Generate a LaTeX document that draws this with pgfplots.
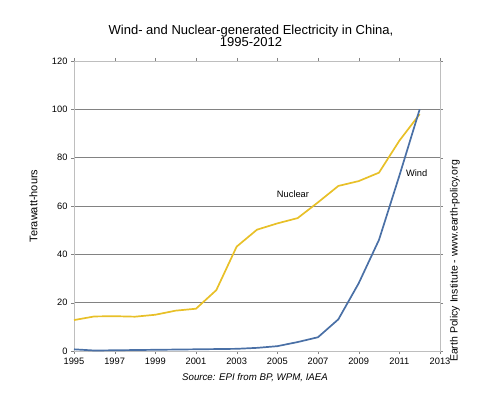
\documentclass[border=0pt]{standalone}
\usepackage{pgfplots}
\pgfplotsset{compat=1.18}
\usepackage{fontspec}
\setmainfont{Liberation Sans}
\definecolor{nuc}{RGB}{232,192,40}
\definecolor{wind}{RGB}{74,112,166}
\definecolor{gridc}{RGB}{130,130,130}
\definecolor{framec}{RGB}{190,190,190}
\begin{document}
\begin{tikzpicture}
\useasboundingbox (0,0) rectangle (500pt,396pt);
\node[align=center,font=\fontsize{13}{14}\selectfont] at (251pt,360pt) {Wind- and Nuclear-generated Electricity in China,\\[-2pt]1995-2012};
\node[font=\itshape\fontsize{9.7}{11}\selectfont] at (255pt,18pt) {Source: EPI from BP, WPM, IAEA};
\node[rotate=90,font=\fontsize{10.5}{12}\selectfont] at (455pt,135pt) {Earth Policy Institute - www.earth-policy.org};
\begin{axis}[
  at={(74pt,45pt)}, anchor=south west,
  scale only axis, width=366pt, height=290pt,
  xmin=1995, xmax=2013, ymin=0, ymax=120,
  xtick={1995,1997,...,2013},
  ytick={0,20,...,120},
  xticklabel style={/pgf/number format/.cd,1000 sep={},assume math mode=true},
  yticklabel style={/pgf/number format/assume math mode=true},
  ticklabel style={font=\fontsize{9.3}{10}\selectfont},
  ymajorgrids, grid style={gridc, line width=0.6pt},
  axis line style={framec},
  x axis line style={gridc},
  tick style={gridc}, tick align=outside,
  major tick length=3pt,
  ylabel={Terawatt-hours},
  ylabel style={font=\fontsize{11}{12}\selectfont, at={(-0.09,0.5)}},
  clip=false,
]
\addplot[nuc, line width=1.7pt] coordinates {
(1995,12.8)(1996,14.3)(1997,14.4)(1998,14.2)(1999,15.0)(2000,16.7)(2001,17.5)
(2002,25.2)(2003,43.2)(2004,50.2)(2005,52.8)(2006,55.0)(2007,61.5)(2008,68.3)
(2009,70.3)(2010,73.8)(2011,87.0)(2012,98.0)};
\addplot[wind, line width=1.7pt] coordinates {
(1995,0.7)(1996,0.2)(1997,0.3)(1998,0.4)(1999,0.5)(2000,0.6)(2001,0.7)
(2002,0.8)(2003,0.9)(2004,1.3)(2005,2.0)(2006,3.7)(2007,5.7)(2008,13.1)
(2009,28.0)(2010,46.0)(2011,72.5)(2012,100.0)};
\node[font=\fontsize{9.3}{10}\selectfont] at (axis cs:2005.77,65) {Nuclear};
\node[font=\fontsize{9.3}{10}\selectfont] at (axis cs:2011.85,73.6) {Wind};
\end{axis}
\end{tikzpicture}
\end{document}
